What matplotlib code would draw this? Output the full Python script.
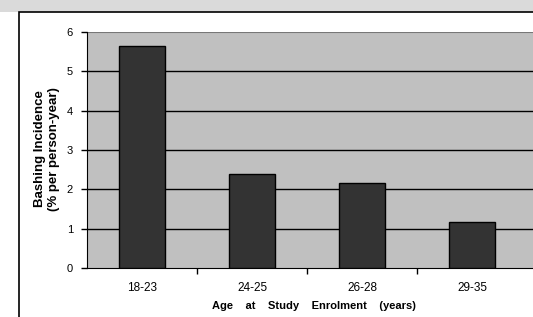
import matplotlib
matplotlib.use("Agg")
import matplotlib.pyplot as plt
from matplotlib.patches import Rectangle

categories = ["18-23", "24-25", "26-28", "29-35"]
values = [5.65, 2.40, 2.17, 1.16]
yticks = [0, 1, 2, 3, 4, 5, 6]

plt.rcParams['font.family'] = ['Liberation Sans', 'DejaVu Sans']

W, H = 533, 317
fig = plt.figure(figsize=(W/100, H/100), dpi=100)
fig.patch.set_facecolor('white')

# top textured strip
fig.patches.append(Rectangle((0, 1 - 12/H), 1, 12/H, transform=fig.transFigure,
                             facecolor='#dadada', edgecolor='none', zorder=0))
# outer chart border
fig.patches.append(Rectangle((19/W, -0.1), 1.2, 1 - 12/H + 0.1, transform=fig.transFigure,
                             facecolor='white', edgecolor='black', linewidth=1.2, zorder=1))

left, right = 87, 540
bottom, top = 268, 32
ax = fig.add_axes([left/W, 1 - bottom/H, (right-left)/W, (bottom-top)/H])
ax.set_zorder(2)
ax.set_facecolor('#c0c0c0')

x = list(range(len(categories)))
ax.bar(x, values, width=0.41, color='#333333', edgecolor='black', linewidth=1.0, zorder=3)

ax.set_ylim(0, 6)
ax.set_xlim(-0.5, -0.5 + (right-left)/110)
ax.set_yticks(yticks)
ax.set_yticklabels([str(t) for t in yticks], fontsize=8)
for t in yticks[1:-1]:
    ax.axhline(t, color='black', linewidth=1.0, zorder=2)
ax.axhline(6, color='#777777', linewidth=1.5, zorder=2)

ax.set_xticks([0.5, 1.5, 2.5], minor=False)
ax.set_xticklabels([])
ax.set_xticks(x, minor=True)
ax.set_xticklabels(categories, minor=True, fontsize=8.5)
ax.tick_params(axis='x', which='minor', length=0, pad=10)
ax.tick_params(axis='x', which='major', length=4, width=1, direction='out')
ax.tick_params(axis='y', length=4, width=1, direction='out', pad=6)

for s in ['top', 'right']:
    ax.spines[s].set_visible(False)
ax.spines['left'].set_color('black')
ax.spines['bottom'].set_color('black')

ax.set_xlabel("Age    at    Study    Enrolment    (years)", fontsize=8, fontweight='bold', labelpad=5)
fig.text(47/W, 1 - 149/H, "Bashing Incidence\n(% per person-year)", rotation=90,
         ha='center', va='center', fontsize=9.5, fontweight='bold', linespacing=1.2)

fig.savefig("out.png", dpi=100)
